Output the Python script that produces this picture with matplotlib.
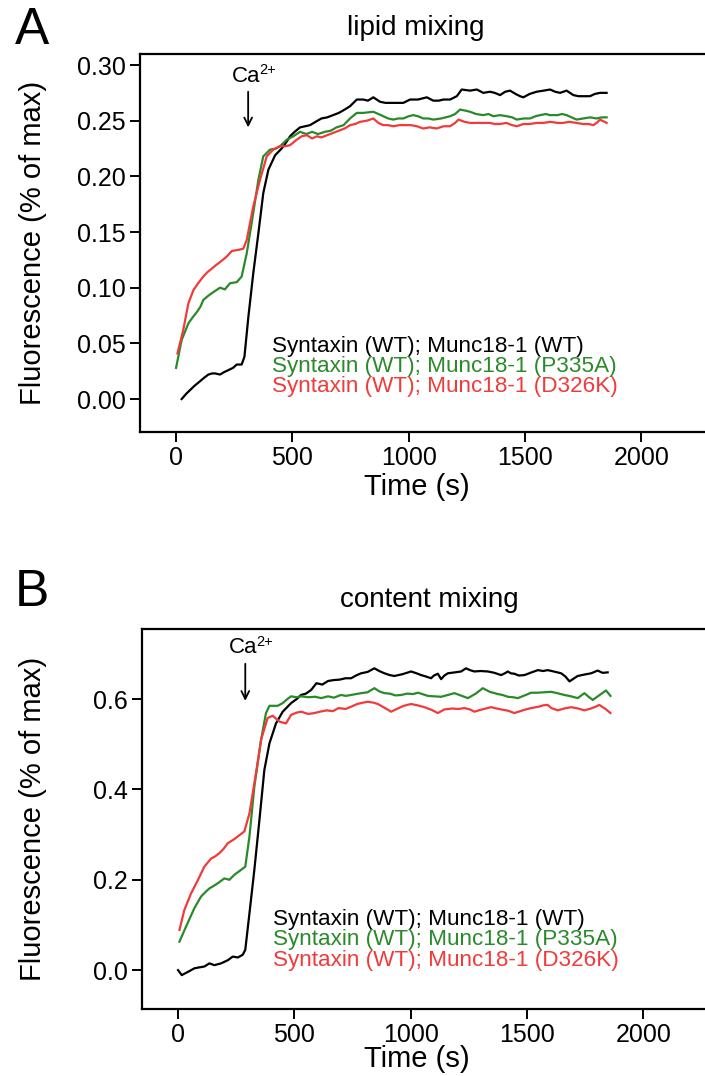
import numpy as np
import matplotlib
matplotlib.use("Agg")
from matplotlib import pyplot as plt

plt.rcParams["font.family"] = ["Liberation Sans", "DejaVu Sans"]

# %%
# Data (time in s, fluorescence as fraction of max)

# Panel A: lipid mixing
t_lipid_wt = [24, 45, 60, 80, 103, 120, 139, 155, 168, 189, 205, 225, 245, 261, 282, 294, 311, 332, 354, 375,
              397, 426, 454, 475, 490, 510, 533, 555, 576, 600, 625, 650, 675, 700, 725, 748, 777, 805, 825, 848,
              877, 900, 920, 950, 977, 1006, 1040, 1078, 1106, 1130, 1149, 1178, 1207, 1228, 1264, 1293, 1321,
              1350, 1370, 1393, 1415, 1436, 1460, 1479, 1493, 1520, 1550, 1580, 1608, 1630, 1651, 1679, 1708,
              1730, 1751, 1780, 1800, 1823, 1851]
f_lipid_wt = [0.000, 0.005, 0.008, 0.012, 0.016, 0.019, 0.022, 0.023, 0.023, 0.022, 0.024, 0.026, 0.028, 0.031,
              0.031, 0.038, 0.074, 0.113, 0.149, 0.185, 0.206, 0.219, 0.225, 0.231, 0.236, 0.240, 0.244, 0.245,
              0.246, 0.249, 0.252, 0.253, 0.255, 0.257, 0.260, 0.263, 0.269, 0.269, 0.268, 0.271, 0.267, 0.266,
              0.266, 0.266, 0.266, 0.269, 0.269, 0.271, 0.268, 0.268, 0.269, 0.269, 0.272, 0.278, 0.277, 0.278,
              0.275, 0.276, 0.275, 0.273, 0.276, 0.277, 0.274, 0.272, 0.271, 0.274, 0.276, 0.277, 0.278, 0.276,
              0.275, 0.277, 0.273, 0.272, 0.272, 0.272, 0.274, 0.275, 0.275]

t_lipid_p335a = [0, 24, 53, 70, 89, 105, 117, 140, 160, 189, 210, 232, 261, 282, 304, 325, 354, 375, 404, 430,
                 447, 476, 504, 533, 560, 585, 610, 640, 665, 690, 720, 748, 777, 805, 848, 870, 891, 912, 934,
                 955, 977, 1000, 1020, 1040, 1063, 1085, 1106, 1140, 1178, 1200, 1221, 1245, 1264, 1290, 1321,
                 1343, 1364, 1393, 1422, 1445, 1465, 1495, 1522, 1545, 1565, 1590, 1608, 1640, 1660, 1679, 1700,
                 1722, 1751, 1780, 1808, 1830, 1851]
f_lipid_p335a = [0.028, 0.053, 0.068, 0.073, 0.078, 0.083, 0.089, 0.093, 0.096, 0.100, 0.0985, 0.104, 0.105,
                 0.110, 0.131, 0.158, 0.197, 0.218, 0.224, 0.225, 0.227, 0.233, 0.236, 0.240, 0.238, 0.240,
                 0.238, 0.240, 0.241, 0.244, 0.246, 0.252, 0.257, 0.257, 0.258, 0.256, 0.254, 0.252, 0.251,
                 0.252, 0.252, 0.254, 0.255, 0.254, 0.252, 0.252, 0.251, 0.252, 0.254, 0.256, 0.260, 0.259,
                 0.258, 0.256, 0.255, 0.256, 0.254, 0.255, 0.254, 0.253, 0.251, 0.252, 0.252, 0.254, 0.255,
                 0.256, 0.255, 0.255, 0.256, 0.255, 0.253, 0.251, 0.252, 0.253, 0.252, 0.253, 0.253]

t_lipid_d326k = [6, 31, 53, 75, 95, 117, 135, 153, 170, 189, 218, 240, 268, 289, 304, 332, 361, 390, 418, 444,
                 468, 490, 519, 540, 562, 585, 605, 625, 650, 675, 700, 725, 748, 770, 791, 820, 848, 870, 891,
                 912, 934, 960, 985, 1010, 1035, 1063, 1090, 1121, 1150, 1178, 1200, 1214, 1240, 1264, 1290,
                 1321, 1350, 1370, 1393, 1420, 1445, 1465, 1493, 1520, 1550, 1580, 1608, 1640, 1665, 1690, 1722,
                 1750, 1775, 1794, 1808, 1823, 1851]
f_lipid_d326k = [0.041, 0.062, 0.086, 0.098, 0.104, 0.110, 0.114, 0.117, 0.120, 0.123, 0.128, 0.133, 0.134,
                 0.135, 0.143, 0.173, 0.197, 0.218, 0.224, 0.227, 0.227, 0.228, 0.233, 0.236, 0.237, 0.234,
                 0.236, 0.235, 0.237, 0.239, 0.241, 0.243, 0.246, 0.247, 0.249, 0.250, 0.252, 0.248, 0.246,
                 0.246, 0.245, 0.246, 0.246, 0.246, 0.245, 0.243, 0.244, 0.243, 0.245, 0.245, 0.248, 0.251,
                 0.249, 0.248, 0.248, 0.248, 0.248, 0.247, 0.247, 0.248, 0.246, 0.245, 0.247, 0.247, 0.248,
                 0.248, 0.249, 0.248, 0.248, 0.249, 0.248, 0.247, 0.247, 0.246, 0.248, 0.251, 0.248]

# Panel B: content mixing
t_content_wt = [0, 16, 42, 70, 90, 113, 135, 156, 185, 214, 235, 257, 278, 289, 307, 328, 350, 371, 393, 421,
                450, 486, 510, 529, 550, 572, 595, 620, 645, 670, 695, 720, 744, 765, 787, 815, 844, 865, 887,
                910, 930, 965, 1002, 1025, 1045, 1065, 1088, 1100, 1117, 1131, 1145, 1160, 1190, 1217, 1238,
                1255, 1274, 1300, 1332, 1360, 1389, 1405, 1418, 1430, 1446, 1465, 1489, 1520, 1547, 1570, 1589,
                1615, 1647, 1665, 1683, 1700, 1718, 1745, 1776, 1790, 1804, 1825, 1847]
f_content_wt = [0.000, -0.011, -0.004, 0.004, 0.006, 0.008, 0.015, 0.011, 0.015, 0.022, 0.030, 0.028, 0.034,
                0.045, 0.126, 0.222, 0.333, 0.443, 0.502, 0.546, 0.572, 0.591, 0.600, 0.609, 0.612, 0.620,
                0.635, 0.632, 0.640, 0.642, 0.643, 0.646, 0.646, 0.652, 0.657, 0.660, 0.668, 0.662, 0.657,
                0.653, 0.651, 0.655, 0.661, 0.657, 0.653, 0.650, 0.646, 0.652, 0.656, 0.644, 0.652, 0.657,
                0.659, 0.661, 0.668, 0.664, 0.661, 0.662, 0.661, 0.658, 0.653, 0.657, 0.661, 0.657, 0.656,
                0.652, 0.653, 0.659, 0.664, 0.662, 0.664, 0.661, 0.657, 0.650, 0.639, 0.645, 0.651, 0.654,
                0.657, 0.660, 0.663, 0.658, 0.659]

t_content_p335a = [6, 34, 70, 99, 120, 135, 155, 170, 199, 221, 242, 271, 289, 307, 328, 357, 378, 393, 428,
                   450, 470, 486, 510, 529, 560, 590, 615, 645, 670, 700, 722, 744, 765, 787, 815, 844, 865, 887,
                   910, 935, 959, 985, 1010, 1031, 1050, 1074, 1100, 1131, 1160, 1188, 1215, 1246, 1280, 1310,
                   1340, 1375, 1395, 1418, 1440, 1461, 1490, 1518, 1545, 1575, 1604, 1630, 1661, 1690, 1718,
                   1747, 1765, 1783, 1810, 1840, 1859]
f_content_p335a = [0.063, 0.096, 0.137, 0.163, 0.174, 0.181, 0.187, 0.192, 0.203, 0.200, 0.211, 0.222, 0.229,
                   0.296, 0.406, 0.510, 0.569, 0.585, 0.585, 0.591, 0.600, 0.606, 0.604, 0.606, 0.604, 0.605,
                   0.602, 0.606, 0.603, 0.609, 0.607, 0.609, 0.611, 0.613, 0.615, 0.624, 0.617, 0.613, 0.612,
                   0.608, 0.609, 0.612, 0.611, 0.614, 0.611, 0.607, 0.606, 0.605, 0.609, 0.613, 0.608, 0.602,
                   0.612, 0.624, 0.616, 0.611, 0.609, 0.605, 0.604, 0.602, 0.608, 0.614, 0.614, 0.615, 0.616,
                   0.613, 0.609, 0.606, 0.602, 0.613, 0.605, 0.598, 0.608, 0.619, 0.607]

t_content_d326k = [6, 27, 56, 85, 113, 142, 160, 178, 195, 214, 242, 262, 285, 307, 335, 357, 385, 407, 436,
                   464, 486, 510, 529, 560, 586, 610, 640, 665, 690, 720, 744, 770, 795, 816, 840, 859, 890, 916,
                   940, 970, 1002, 1030, 1059, 1090, 1117, 1145, 1180, 1205, 1231, 1255, 1274, 1300, 1323, 1346,
                   1370, 1389, 1420, 1446, 1470, 1495, 1518, 1550, 1570, 1589, 1605, 1632, 1660, 1690, 1720,
                   1747, 1775, 1795, 1811, 1835, 1859]
f_content_d326k = [0.089, 0.133, 0.170, 0.199, 0.229, 0.247, 0.252, 0.259, 0.268, 0.281, 0.290, 0.298, 0.307,
                   0.347, 0.436, 0.510, 0.558, 0.563, 0.550, 0.546, 0.565, 0.570, 0.572, 0.567, 0.569, 0.572,
                   0.575, 0.573, 0.580, 0.578, 0.583, 0.589, 0.592, 0.594, 0.592, 0.589, 0.580, 0.572, 0.578,
                   0.585, 0.589, 0.586, 0.582, 0.576, 0.569, 0.577, 0.579, 0.578, 0.580, 0.577, 0.572, 0.576,
                   0.579, 0.582, 0.579, 0.577, 0.574, 0.569, 0.573, 0.577, 0.580, 0.583, 0.586, 0.587, 0.580,
                   0.575, 0.579, 0.582, 0.579, 0.575, 0.579, 0.583, 0.587, 0.579, 0.569]

labels = ["Syntaxin (WT); Munc18-1 (WT)",
          "Syntaxin (WT); Munc18-1 (P335A)",
          "Syntaxin (WT); Munc18-1 (D326K)"]
colors = ["black", "#2a8a2a", "#f23a3a"]

x_ticks = [0, 500, 1000, 1500, 2000]
yticks_lipid = [0.00, 0.05, 0.10, 0.15, 0.20, 0.25, 0.30]
yticks_content = [0.0, 0.2, 0.4, 0.6]

# %%
W, H = 705, 1076
fig = plt.figure(figsize=(W / 100, H / 100), dpi=100)


def px_axes(left, top, bottom, xlim):
    # axes placed from pixel coords; right edge runs past the figure (clipped like the original)
    width_px = (xlim[1] - xlim[0]) * (116.3 / 500)
    return fig.add_axes([left / W, 1 - bottom / H, width_px / W, (bottom - top) / H])


def style_axes(ax, yticks, yfmt):
    for side in ["left", "bottom", "top", "right"]:
        ax.spines[side].set_linewidth(1.6)
    ax.tick_params(direction="out", length=7, width=1.4, labelsize=18, pad=3)
    ax.set_xticks(x_ticks)
    ax.set_yticks(yticks)
    ax.set_yticklabels([yfmt.format(v) for v in yticks])


panels = [
    dict(series=[(t_lipid_wt, f_lipid_wt), (t_lipid_p335a, f_lipid_p335a), (t_lipid_d326k, f_lipid_d326k)],
         top=54, bottom=432, left=140, ylim=(-0.0296, 0.3099), yticks=yticks_lipid, yfmt="{:.2f}",
         title="lipid mixing", title_xy=(416, 28), letter="A", letter_y=30, xlabel_y=487,
         ca=(310, 0.290, 0.276, 0.244), leg_x=413, leg_y=[0.0476, 0.0296, 0.0117]),
    dict(series=[(t_content_wt, f_content_wt), (t_content_p335a, f_content_p335a),
                 (t_content_d326k, f_content_d326k)],
         top=629, bottom=1009, left=142, ylim=(-0.086, 0.755), yticks=yticks_content, yfmt="{:.1f}",
         title="content mixing", title_xy=(429, 600), letter="B", letter_y=593, xlabel_y=1059,
         ca=(289, 0.713, 0.678, 0.596), leg_x=409, leg_y=[0.113, 0.067, 0.021]),
]

for p in panels:
    xlim = (-155, 2400)
    ax = px_axes(p["left"], p["top"], p["bottom"], xlim)
    for (t, f), c in zip(p["series"], colors):
        ax.plot(t, f, color=c, lw=1.6, solid_joinstyle="round")
    ax.set_xlim(*xlim)
    ax.set_ylim(*p["ylim"])
    style_axes(ax, p["yticks"], p["yfmt"])

    # Ca2+ arrow: "Ca" plus a small raised "2+"
    cx, ty, tail, tip = p["ca"]
    ax.annotate("Ca", xy=(cx, ty), xytext=(8.5, 0), textcoords="offset points",
                ha="right", va="center", fontsize=16)
    ax.annotate("2+", xy=(cx, ty), xytext=(7.8, 4.5), textcoords="offset points",
                ha="left", va="center", fontsize=10.5)
    ax.annotate("", xy=(cx, tip), xytext=(cx, tail),
                arrowprops=dict(arrowstyle="->", lw=1.3, color="black", shrinkA=0, shrinkB=0,
                                mutation_scale=14))

    # legend as coloured text lines
    for lab, c, yy in zip(labels, colors, p["leg_y"]):
        ax.text(p["leg_x"], yy, lab, color=c, fontsize=16.2, ha="left", va="center")

    fig.text(p["title_xy"][0] / W, 1 - p["title_xy"][1] / H, p["title"], ha="center", va="center",
             fontsize=20)
    fig.text(15 / W, 1 - p["letter_y"] / H, p["letter"], ha="left", va="center", fontsize=37)
    fig.text(417 / W, 1 - p["xlabel_y"] / H, "Time (s)", ha="center", va="center", fontsize=21)
    fig.text(33 / W, 1 - (p["top"] + p["bottom"]) / 2 / H, "Fluorescence (% of max)", rotation=90,
             ha="center", va="center", fontsize=21)

fig.savefig("out.png", dpi=100)
